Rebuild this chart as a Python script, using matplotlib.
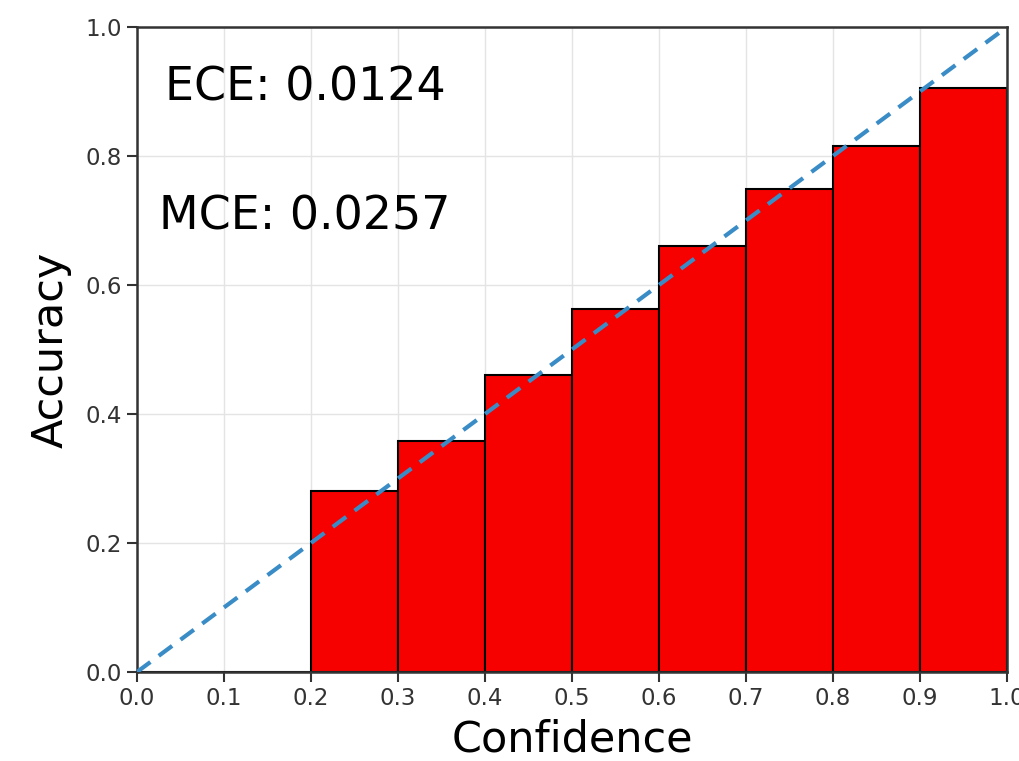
import matplotlib.pyplot as plt
import numpy as np

bin_lower = [0.0, 0.1, 0.2, 0.3, 0.4, 0.5, 0.6, 0.7, 0.8, 0.9]
bin_accuracy = [0.0, 0.0, 0.280, 0.358, 0.460, 0.563, 0.661, 0.749, 0.816, 0.906]
ece = 0.0124
mce = 0.0257

fig = plt.figure(figsize=(10.2, 7.61), dpi=100)
ax = fig.add_axes([0.1343, 0.117, 0.853, 0.8476])

width = 0.1
ax.bar(bin_lower, bin_accuracy, width=width, align="edge",
       color="#f70000", edgecolor="black", linewidth=1.5, zorder=2)

ax.plot([0, 1], [0, 1], linestyle="--", color="#3a8cc6",
        linewidth=3, dashes=(4, 2.5), zorder=3)

ax.set_xlim(0, 1)
ax.set_ylim(0, 1)
ax.set_xticks(np.arange(0, 1.01, 0.1))
ax.set_yticks(np.arange(0, 1.01, 0.2))
ax.grid(True, color="#e4e4e4", linewidth=1.0, zorder=0)
ax.set_axisbelow(True)

ax.tick_params(labelsize=16.5, length=7, width=1.5, colors="#333333",
               labelcolor="#333333", pad=4)
for s in ax.spines.values():
    s.set_linewidth(1.8)
    s.set_color("#333333")

ax.set_xlabel("Confidence", fontsize=31, labelpad=6)
ax.set_ylabel("Accuracy", fontsize=31, labelpad=10)

ax.text(0.193, 0.905, "ECE: %.4f" % ece, fontsize=33,
        ha="center", va="center", transform=ax.transAxes)
ax.text(0.193, 0.706, "MCE: %.4f" % mce, fontsize=33,
        ha="center", va="center", transform=ax.transAxes)

plt.savefig("out.png", dpi=100)
plt.close()
